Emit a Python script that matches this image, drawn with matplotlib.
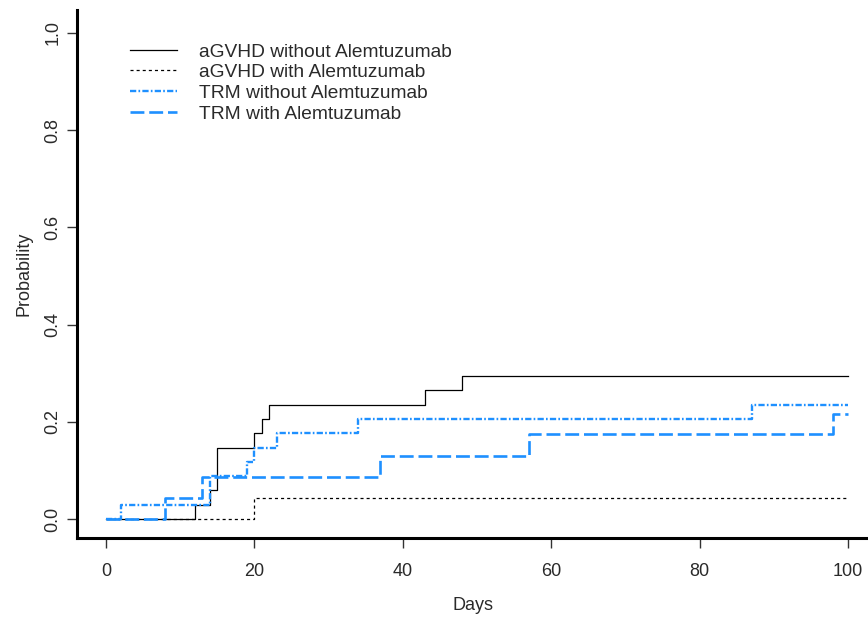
#!/usr/bin/env python3

import matplotlib as mpl
import matplotlib.pyplot as plt

# cumulative incidence curves
agvhd_wo_days = [0, 12, 14, 15, 20, 21, 22, 43, 48, 100]
agvhd_wo_prob = [0, 0.029, 0.059, 0.147, 0.176, 0.206, 0.235, 0.265, 0.294, 0.294]

agvhd_w_days = [0, 20, 100]
agvhd_w_prob = [0, 0.044, 0.044]

trm_wo_days = [0, 2, 14, 19, 20, 23, 34, 87, 100]
trm_wo_prob = [0, 0.029, 0.088, 0.118, 0.147, 0.176, 0.206, 0.235, 0.235]

trm_w_days = [0, 8, 13, 37, 57, 98, 100]
trm_w_prob = [0, 0.0435, 0.087, 0.130, 0.174, 0.217, 0.217]

labels = ["aGVHD without Alemtuzumab", "aGVHD with Alemtuzumab",
          "TRM without Alemtuzumab", "TRM with Alemtuzumab"]


def main():
    mpl.rcParams['font.family'] = ['Liberation Sans', 'DejaVu Sans']
    mpl.rcParams['font.size'] = 13
    mpl.rcParams['lines.scale_dashes'] = False
    blue = '#1E90FF'
    txt = '#2a2a2a'

    fig = plt.figure(figsize=(8.68, 6.17), dpi=100)
    ax = fig.add_axes([77 / 868, 79 / 617, 791 / 868, 528 / 617])

    ax.step(agvhd_wo_days, agvhd_wo_prob, where='post', color='black',
            lw=0.9, label=labels[0])
    ax.step(agvhd_w_days, agvhd_w_prob, where='post', color='black',
            lw=0.9, dashes=(2.2, 2.2), label=labels[1])
    ax.step(trm_wo_days, trm_wo_prob, where='post', color=blue,
            lw=1.7, dashes=(4.5, 1.6, 1.2, 1.6), label=labels[2])
    ax.step(trm_w_days, trm_w_prob, where='post', color=blue,
            lw=1.9, dashes=(10, 3.5), label=labels[3])

    ax.set_xlim(-3.9, 102.7)
    ax.set_ylim(-0.039, 1.047)
    ax.set_xticks([0, 20, 40, 60, 80, 100])
    ax.set_yticks([0.0, 0.2, 0.4, 0.6, 0.8, 1.0])
    ax.set_yticklabels(['0.0', '0.2', '0.4', '0.6', '0.8', '1.0'],
                       rotation=90, va='center')
    ax.tick_params(length=7, width=1, color='#333333', labelcolor=txt)
    ax.tick_params(axis='x', pad=11)
    ax.tick_params(axis='y', pad=4)

    for side in ['top', 'right']:
        ax.spines[side].set_visible(False)
    for side in ['left', 'bottom']:
        ax.spines[side].set_linewidth(2.2)

    ax.set_xlabel('Days', color=txt, labelpad=12)
    ax.set_ylabel('Probability', color=txt, labelpad=9)

    ax.legend(loc='upper left', bbox_to_anchor=(0.045, 0.97),
              frameon=False, handlelength=2.45, handletextpad=1.15,
              labelspacing=0.17, fontsize=13.8, labelcolor=txt)

    plt.savefig('out.png', dpi=100)


if __name__ == "__main__":
    main()
